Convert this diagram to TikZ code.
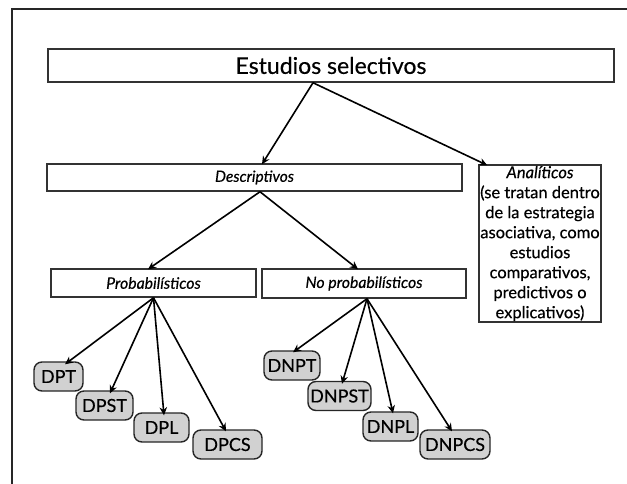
\documentclass[tikz,border=0pt]{standalone}
\usepackage{fontspec}
\setmainfont{Lato}[FakeBold=0.4,AutoFakeBold=0.4]
\usetikzlibrary{arrows.meta}
\tikzset{
  box/.style={draw=black!80, line width=1.5pt, fill=white, inner sep=0pt, align=center},
  pill/.style={draw=black!85, line width=1.4pt, fill=black!18, rounded corners=8pt, inner sep=0pt, font=\fontsize{18}{20}\selectfont, minimum height=29pt},
  arr/.style={line width=1.6pt, -{Stealth[length=8pt,width=7.5pt]}},
}
\begin{document}
\begin{tikzpicture}[x=1pt,y=-1pt]
\fill[white] (0,0) rectangle (627,484);
\useasboundingbox (0,0) rectangle (627,484);
\draw[line width=1.2pt, black!85] (12,484) -- (12,9) -- (627,9);

\node[box, minimum width=566pt, minimum height=33pt, font=\fontsize{23}{25}\selectfont] (est) at (331,65.5) {Estudios selectivos};
\node[box, minimum width=415pt, minimum height=27pt, font=\itshape\fontsize{15.5}{17}\selectfont] (desc) at (254.5,177.5) {Descriptivos};
\node[box, minimum width=122pt, minimum height=157pt, font=\fontsize{16.5}{20}\selectfont] (ana) at (540,243.5) {\textit{Analíticos}\\(se tratan dentro\\de la estrategia\\asociativa,\ como\\estudios\\comparativos,\\predictivos o\\explicativos)};
\node[box, minimum width=205pt, minimum height=28pt, font=\itshape\fontsize{15.8}{17}\selectfont] (prob) at (153.5,283) {Probabilísticos};
\node[box, minimum width=204pt, minimum height=29pt, font=\itshape\fontsize{15.8}{17}\selectfont] (noprob) at (364,283.5) {No probabilísticos};

\node[pill, minimum width=49pt] (dpt) at (58.5,376.5) {DPT};
\node[pill, minimum width=57pt] (dpst) at (104.5,405.5) {DPST};
\node[pill, minimum width=55pt] (dpl) at (161.5,427.5) {DPL};
\node[pill, minimum width=69pt] (dpcs) at (227.5,444.5) {DPCS};
\node[pill, minimum width=56pt] (dnpt) at (292,365.5) {DNPT};
\node[pill, minimum width=63pt] (dnpst) at (339.5,396) {DNPST};
\node[pill, minimum width=55pt] (dnpl) at (390.5,426.5) {DNPL};
\node[pill, minimum width=70pt] (dnpcs) at (455,444.5) {DNPCS};

\draw[arr] ([xshift=-18pt]est.south) -- ([xshift=7.5pt,yshift=-1pt]desc.north);
\draw[arr] ([xshift=-18pt]est.south) -- ([xshift=9pt,yshift=-1pt]ana.north west);
\draw[arr] ([xshift=5.5pt]desc.south) -- ([xshift=-5.5pt,yshift=-1pt]prob.north);
\draw[arr] ([xshift=5.5pt]desc.south) -- ([xshift=-6pt,yshift=-1pt]noprob.north);
\draw[arr] (prob.south) -- ([xshift=6.5pt,yshift=-3pt]dpt.north);
\draw[arr] (prob.south) -- ([xshift=5.5pt,yshift=-3pt]dpst.north);
\draw[arr] (prob.south) -- ([xshift=2.5pt,yshift=-3pt]dpl.north);
\draw[arr] (prob.south) -- ([xshift=-1.5pt,yshift=-2pt]dpcs.north);
\draw[arr] ([xshift=3pt]noprob.south) -- ([xshift=1pt,yshift=-2pt]dnpt.north);
\draw[arr] ([xshift=3pt]noprob.south) -- ([xshift=2.5pt,yshift=-3pt]dnpst.north);
\draw[arr] ([xshift=3pt]noprob.south) -- ([xshift=2.5pt,yshift=-2pt]dnpl.north);
\draw[arr] ([xshift=3pt]noprob.south) -- ([xshift=-3pt,yshift=-2pt]dnpcs.north);
\end{tikzpicture}
\end{document}
